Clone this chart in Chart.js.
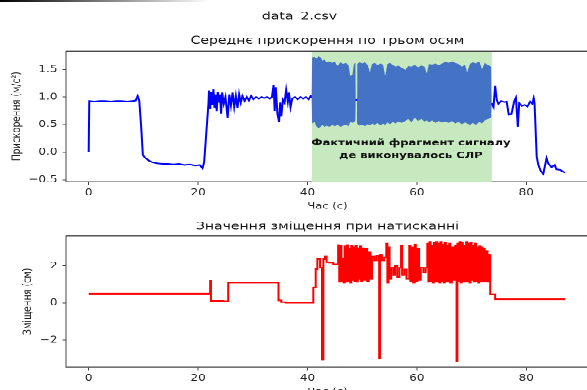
<!DOCTYPE html>
<html>
<head>
<meta charset="utf-8">
<script src="https://cdn.jsdelivr.net/npm/chart.js@4.4.0/dist/chart.umd.min.js"></script>
<style>
  html, body { margin: 0; padding: 0; background: #fff; overflow: hidden; }
  body { width: 587px; height: 390px; position: relative; }
  /* the picture is squashed vertically, so draw tall and squeeze */
  #stage { position: absolute; left: 0; top: 0; width: 599px; height: 521px; transform: scaleY(0.7692); transform-origin: 0 0; }
  #topBox { position: absolute; left: 0; top: 0; width: 599px; height: 280px; }
  #botBox { position: absolute; left: 0; top: 280px; width: 599px; height: 241px; }
  #edge { position: absolute; left: 0; top: 0; width: 210px; height: 2px; background: linear-gradient(to right, #000, rgba(0,0,0,0)); }
</style>
</head>
<body>
<div id="stage">
  <div id="topBox"><canvas id="accelChart"></canvas></div>
  <div id="botBox"><canvas id="shiftChart"></canvas></div>
</div>
<div id="edge"></div>
<script>
// середнє прискорення (м/с²) по часу (с)
const accelTime = [0, 0.1, 1, 2, 3, 4, 5, 6, 7, 8, 8.6, 8.95, 9.25, 9.6, 9.9, 10.3, 11.0, 11.6, 12.5, 13.5, 14.5, 15.5, 16.5, 17.5, 18.5, 19.5, 20.3, 20.8, 21.1, 21.5, 21.9,
  22.0, 22.2, 22.4, 22.6, 22.8, 23.0, 23.2, 23.4, 23.6, 23.8, 24.0, 24.2, 24.4, 24.7, 25.0, 25.4, 25.7, 26.0, 26.3, 26.6, 26.9, 27.2, 27.5, 27.8, 28.1, 28.5, 28.9, 29.3, 29.7, 30.1, 30.6, 31.1, 31.6, 32.1, 32.6, 33.1, 33.5, 33.8, 34.0, 34.2, 34.5, 34.8, 35.0, 35.2, 35.5, 35.8, 36.1, 36.4, 36.6, 36.9, 37.2, 37.7, 38.2, 38.7, 39.2, 39.7, 40.2, 40.6, 41.0,
  73.7, 74.0, 74.3, 74.6, 74.9, 75.4, 76.0, 76.4, 76.8, 77.3, 77.8, 78.1, 78.45, 78.7, 79.2, 79.7, 80.2, 80.7, 81.1, 81.35, 81.5, 81.9, 82.2, 82.6, 83.1, 83.7, 84.0, 84.6, 85.2, 85.5, 86.2, 87.1];
const accelValue = [0.0, 0.93, 0.92, 0.93, 0.93, 0.92, 0.93, 0.93, 0.92, 0.93, 0.94, 1.02, 0.93, 0.45, -0.05, -0.1, -0.15, -0.18, -0.2, -0.21, -0.21, -0.22, -0.21, -0.23, -0.22, -0.24, -0.23, -0.29, -0.18, 0.35, 0.89,
  1.12, 0.78, 1.1, 0.85, 1.14, 0.8, 1.05, 0.75, 1.1, 0.9, 1.05, 0.7, 1.08, 0.88, 1.0, 0.62, 1.05, 0.85, 1.08, 0.82, 1.02, 0.8, 1.05, 0.9, 1.02, 0.93, 1.0, 0.94, 1.02, 0.96, 1.0, 0.97, 1.0, 0.98, 1.0, 0.97, 1.0, 1.22, 0.75, 1.18, 0.7, 0.55, 0.9, 0.65, 0.95, 0.9, 1.13, 0.92, 1.08, 0.82, 0.97, 1.0, 0.96, 1.0, 0.97, 1.0, 0.96, 1.02, 0.97,
  0.88, 0.82, 1.2, 0.95, 0.88, 0.93, 0.91, 0.92, 0.68, 0.7, 0.93, 0.99, 0.46, 0.89, 0.84, 0.86, 0.83, 0.92, 0.88, 0.98, 0.9, -0.08, -0.23, -0.33, -0.39, -0.11, -0.2, -0.27, -0.23, -0.31, -0.32, -0.37];

// щільний фрагмент СЛР: верхня і нижня межа коливань
const cprTime = [40.75, 40.85, 41.3, 41.6, 42.0, 42.4, 42.7, 43.1, 43.5, 44.0, 44.5, 45.0, 45.5, 46.0, 46.5, 47.0, 47.5, 47.8, 48.2, 48.5, 48.75, 48.8, 49.05, 49.1, 49.5, 50.0, 50.5, 51.0, 51.4, 51.8, 52.3, 52.8, 53.3, 53.8, 54.2, 54.6, 55.1, 55.6, 56.1, 56.6, 57.2, 57.9, 58.4, 59.0, 59.6, 60.2, 60.8, 61.4, 61.8, 62.2, 62.8, 63.4, 64.0, 64.6, 65.2, 65.8, 66.4, 67.0, 67.6, 68.2, 68.8, 69.2, 69.7, 70.2, 70.8, 71.4, 71.9, 72.4, 73.0, 73.55, 73.65];
const cprHigh = [1.00, 1.72, 1.73, 1.69, 1.74, 1.72, 1.66, 1.68, 1.63, 1.65, 1.62, 1.64, 1.56, 1.63, 1.60, 1.62, 1.58, 1.38, 1.40, 1.60, 1.62, 1.0, 1.0, 1.60, 1.63, 1.61, 1.63, 1.58, 1.45, 1.60, 1.62, 1.58, 1.61, 1.59, 1.38, 1.60, 1.62, 1.58, 1.55, 1.57, 1.53, 1.49, 1.56, 1.55, 1.58, 1.54, 1.57, 1.55, 1.43, 1.60, 1.59, 1.61, 1.58, 1.61, 1.64, 1.62, 1.65, 1.62, 1.60, 1.55, 1.58, 1.45, 1.60, 1.63, 1.61, 1.65, 1.50, 1.62, 1.58, 1.55, 0.92];
const cprLow = [0.95, 0.52, 0.55, 0.47, 0.44, 0.46, 0.50, 0.46, 0.48, 0.46, 0.49, 0.47, 0.50, 0.46, 0.48, 0.50, 0.47, 0.55, 0.53, 0.55, 0.58, 1.0, 1.0, 0.52, 0.48, 0.50, 0.47, 0.51, 0.49, 0.52, 0.50, 0.53, 0.49, 0.52, 0.50, 0.54, 0.51, 0.55, 0.52, 0.56, 0.53, 0.57, 0.60, 0.55, 0.62, 0.57, 0.60, 0.56, 0.58, 0.55, 0.58, 0.53, 0.57, 0.54, 0.56, 0.53, 0.57, 0.52, 0.55, 0.51, 0.54, 0.52, 0.50, 0.53, 0.50, 0.55, 0.52, 0.58, 0.60, 0.62, 0.88];
const cprSpan = [40.8, 73.7];

// зміщення (см) по часу (с)
const shiftTime = [0, 22.2, 22.35, 24.5, 25.5, 34.7, 35.2, 36.0, 41.06, 41.5, 41.8, 42.3, 42.65, 42.9, 43.2, 43.5, 44.0, 44.7,
  45.6, 45.8, 46.0, 46.2, 46.4, 46.6, 46.8, 47.0, 47.2, 47.4, 47.6, 47.8, 48.0, 48.2, 48.4, 48.6, 48.8, 49.0, 49.2, 49.4, 49.6, 49.8, 50.0, 50.3, 50.6, 50.9, 51.2, 51.5, 51.8, 52.2, 52.6, 53.0, 53.1, 53.25, 53.6, 54.0, 54.4, 54.6, 54.8, 55.0, 55.3, 55.7, 56.0, 56.4, 56.8, 57.1, 57.3, 57.7, 58.1, 58.6, 58.8, 59.1, 59.3, 59.6, 59.8, 60.1, 60.4, 60.7, 61.2, 61.6,
  61.9, 62.1, 62.3, 62.5, 62.7, 62.9, 63.1, 63.3, 63.5, 63.7, 63.9, 64.1, 64.3, 64.5, 64.7, 64.9, 65.1, 65.3, 65.5, 65.7, 65.9, 66.1, 66.4, 66.7, 67.0, 67.25, 67.4, 67.6, 67.8, 68.0, 68.2, 68.4, 68.6, 68.8, 69.0, 69.2, 69.4, 69.6, 69.8, 70.0, 70.2, 70.4, 70.6, 70.8, 71.0, 71.2, 71.4, 71.6, 71.8, 72.0, 72.2, 72.4, 72.6, 72.9, 73.1, 73.4, 74.3, 87.1];
const shiftValue = [0.5, 1.2, 0.12, 0.1, 1.1, 0.15, 0.05, 0.02, 0.83, 1.82, 2.36, 1.9, -3.04, 2.36, 2.5, 2.2, 2.18, 2.09,
  3.12, 1.15, 3.1, 1.2, 2.4, 1.1, 3.05, 1.15, 3.12, 1.2, 2.9, 1.1, 3.1, 1.25, 3.0, 1.2, 3.1, 1.15, 2.95, 1.3, 3.05, 1.2, 2.95, 1.25, 2.9, 1.2, 2.75, 1.3, 2.5, 2.3, 2.55, 2.3, -2.99, 2.6, 2.3, 2.45, 3.2, 1.1, 3.0, 1.3, 1.9, 1.5, 2.0, 1.4, 1.9, 3.1, 1.5, 1.8, 1.3, 3.1, 1.2, 3.0, 1.1, 3.15, 1.2, 2.9, 1.25, 1.9, 1.65, 1.9,
  3.2, 1.15, 3.3, 1.2, 3.1, 1.1, 3.25, 1.2, 3.3, 1.15, 3.2, 1.1, 3.3, 1.2, 3.15, 1.1, 3.25, 1.2, 3.1, 1.15, 3.2, 1.1, 3.0, 1.25, 3.1, -3.13, 3.2, 1.2, 3.3, 1.1, 3.25, 1.2, 3.1, 1.15, 3.3, 1.2, 3.2, 1.1, 3.25, 1.25, 3.1, 1.15, 3.2, 1.2, 3.0, 1.1, 3.05, 1.2, 3.0, 1.15, 2.9, 1.2, 2.8, 1.15, 2.6, 0.47, 0.2, 0.2];

const timeTicks = [0, 20, 40, 60, 80];
const accelTicks = [-0.5, 0, 0.5, 1, 1.5];
const accelTickLabels = ['−0.5', '0.0', '0.5', '1.0', '1.5'];
const shiftTicks = [-2, 0, 2];
const shiftTickLabels = ['−2', '0', '2'];
const noteLines = ['Фактичний фрагмент сигналу', 'де виконувалось СЛР'];
const notePos = [58.9, 0.05];

const FONT = 'DejaVu Sans';
const INK = '#222';
const AXIS = '#444';
Chart.defaults.font.family = FONT;
Chart.defaults.color = INK;

function pts(xs, ys) {
  return xs.map((x, i) => ({ x: x, y: ys[i] }));
}

function xScale(h) {
  return {
    type: 'linear', min: -4.15, max: 91.46,
    afterBuildTicks: s => { s.ticks = timeTicks.map(v => ({ value: v })); },
    afterFit: s => { s.height = h; },
    ticks: { font: { size: 12 }, color: INK, padding: 3, maxRotation: 0, autoSkip: false, callback: v => String(v) },
    grid: { drawOnChartArea: false, drawTicks: true, tickLength: 4.5, color: AXIS, tickColor: AXIS },
    border: { display: true, color: AXIS, width: 1.3 },
    title: { display: true, text: 'Час (с)', font: { size: 11.5 }, color: INK, padding: { top: 0, bottom: 4.4 } }
  };
}

function yScale(min, max, ticks, labels, text, pad) {
  return {
    min: min, max: max,
    afterBuildTicks: s => { s.ticks = ticks.map(v => ({ value: v })); },
    afterFit: s => { s.width = 56; },
    ticks: { font: { size: 12 }, color: INK, padding: 5, autoSkip: false, callback: (v, i) => labels[i] },
    grid: { drawOnChartArea: false, drawTicks: true, tickLength: 3.5, color: AXIS, tickColor: AXIS },
    border: { display: true, color: AXIS, width: 1 },
    title: { display: true, text: text, font: { size: 11.5 }, color: INK, padding: { top: pad, bottom: 0 } }
  };
}

// верхня і права рамка
const framePlugin = {
  id: 'frame',
  afterDraw(chart) {
    const { ctx, chartArea: a } = chart;
    ctx.save();
    ctx.strokeStyle = AXIS;
    ctx.lineWidth = 1.3;
    ctx.beginPath();
    ctx.moveTo(a.left, a.top);
    ctx.lineTo(a.right, a.top);
    ctx.lineTo(a.right, a.bottom);
    ctx.stroke();
    ctx.restore();
  }
};

// зелена смуга СЛР
const spanPlugin = {
  id: 'cprSpan',
  beforeDatasetsDraw(chart) {
    const { ctx, chartArea: a, scales: { x } } = chart;
    const x0 = x.getPixelForValue(cprSpan[0]);
    const x1 = x.getPixelForValue(cprSpan[1]);
    ctx.save();
    ctx.fillStyle = '#c6e9bf';
    ctx.fillRect(x0, a.top, x1 - x0, a.bottom - a.top);
    ctx.restore();
  }
};

const notePlugin = {
  id: 'note',
  afterDatasetsDraw(chart) {
    const { ctx, scales: { x, y } } = chart;
    const cx = x.getPixelForValue(notePos[0]);
    const cy = y.getPixelForValue(notePos[1]);
    ctx.save();
    ctx.font = 'bold 11.5px "DejaVu Sans"';
    ctx.fillStyle = '#111';
    ctx.textAlign = 'center';
    ctx.textBaseline = 'middle';
    noteLines.forEach((t, i) => ctx.fillText(t, cx, cy + (i - 0.5) * 16.5));
    ctx.restore();
  }
};

const common = {
  responsive: true,
  maintainAspectRatio: false,
  devicePixelRatio: 2,
  animation: false,
  events: [],
  layout: { padding: { left: 10, right: 10, top: 0, bottom: 0 } },
  elements: { point: { radius: 0 }, line: { tension: 0 } }
};

new Chart(document.getElementById('accelChart'), {
  type: 'line',
  data: {
    datasets: [
      { data: pts(cprTime, cprHigh), borderColor: 'rgba(0,0,0,0)', borderWidth: 1, backgroundColor: '#4472c4', fill: '+1' },
      { data: pts(cprTime, cprLow), borderColor: 'rgba(0,0,0,0)', borderWidth: 1, fill: false },
      { data: pts(accelTime, accelValue), borderColor: '#0000ff', borderWidth: 2, fill: false }
    ]
  },
  options: Object.assign({}, common, {
    scales: {
      x: xScale(43.8),
      y: yScale(-0.533, 1.835, accelTicks, accelTickLabels, 'Прискорення (м/с²)', 0)
    },
    plugins: {
      legend: { display: false },
      tooltip: { enabled: false },
      title: { display: true, text: 'data_2.csv', color: '#111', font: { size: 14, weight: 'normal' }, padding: { top: 13.6, bottom: 14.5 } },
      subtitle: { display: true, fullSize: false, text: 'Середнє прискорення по трьом осям', color: '#111', font: { size: 14, weight: 'normal' }, padding: { top: 0, bottom: 4.6 } }
    }
  }),
  plugins: [spanPlugin, notePlugin, framePlugin]
});

new Chart(document.getElementById('shiftChart'), {
  type: 'line',
  data: {
    datasets: [
      { data: pts(shiftTime, shiftValue), stepped: true, borderColor: '#ff0000', borderWidth: 2, fill: false }
    ]
  },
  options: Object.assign({}, common, {
    scales: {
      x: xScale(44),
      y: yScale(-3.44, 3.61, shiftTicks, shiftTickLabels, 'Зміщення (см)', 11)
    },
    plugins: {
      legend: { display: false },
      tooltip: { enabled: false },
      title: { display: true, fullSize: false, text: 'Значення зміщення при натисканні', color: '#111', font: { size: 14, weight: 'normal' }, padding: { top: 6.3, bottom: 3.7 } }
    }
  }),
  plugins: [framePlugin]
});
</script>
</body>
</html>
